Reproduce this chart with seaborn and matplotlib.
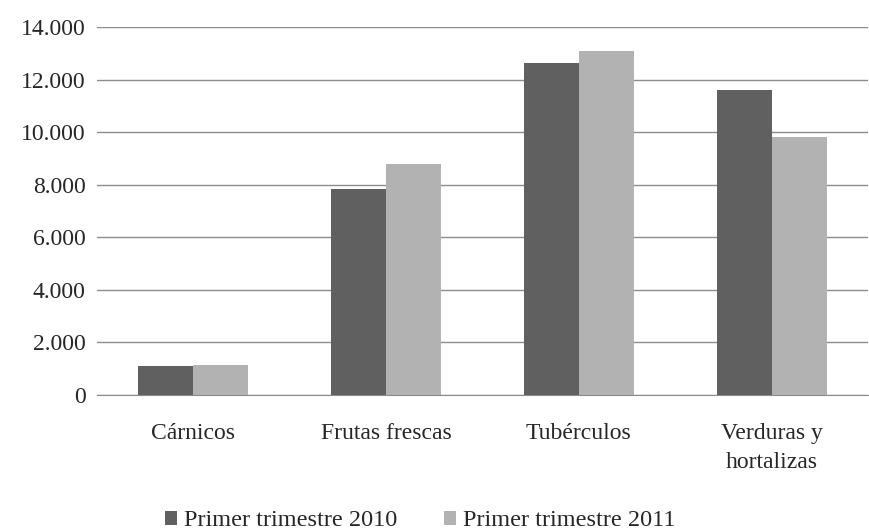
import seaborn as sns
import matplotlib.pyplot as plt
import pandas as pd
from matplotlib.ticker import FuncFormatter

categories = ["Cárnicos", "Frutas frescas", "Tubérculos", "Verduras y\nhortalizas"]
series_names = ["Primer trimestre 2010", "Primer trimestre 2011"]
values_2010 = [1100, 7850, 12620, 11620]
values_2011 = [1150, 8780, 13100, 9830]

df = pd.DataFrame({
    "cat": categories * 2,
    "serie": [series_names[0]] * 4 + [series_names[1]] * 4,
    "valor": values_2010 + values_2011,
})

sns.set_style("white")
plt.rcParams['font.family'] = ['Liberation Serif', 'DejaVu Serif']

fig = plt.figure(figsize=(8.7, 5.32), dpi=100)
ax = fig.add_axes([0.111, 0.2575, 0.887, 0.6915])
sns.barplot(data=df, x="cat", y="valor", hue="serie", palette=["#606060", "#b2b2b2"],
            width=0.57, saturation=1, linewidth=0, ax=ax)

ax.set_ylim(0, 14000)
ax.set_yticks(range(0, 14001, 2000))
ax.yaxis.set_major_formatter(FuncFormatter(lambda v, p: f"{int(v):,}".replace(",", ".")))
ax.yaxis.grid(True, color="#8c8c8c", linewidth=1)
ax.set_axisbelow(True)
ax.set_xlim(-0.5, 3.5)
for s in ["top", "right", "left"]:
    ax.spines[s].set_visible(False)
ax.spines["bottom"].set_color("#8c8c8c")
ax.set_xlabel("")
ax.set_ylabel("")
ax.tick_params(axis="both", labelsize=17, length=0)
ax.tick_params(axis="x", pad=20)
ax.tick_params(axis="y", pad=8)
for t in ax.get_xticklabels():
    t.set_linespacing(1.5)
    t.set_verticalalignment("top")

ax.get_legend().remove()
handles, labels = ax.get_legend_handles_labels()
fig.legend(handles, labels, loc="lower center", bbox_to_anchor=(0.483, -0.04), ncol=2,
           frameon=False, fontsize=17.5, handlelength=0.5, handleheight=0.5,
           handletextpad=0.3, columnspacing=1.9)

plt.savefig("out.png")
